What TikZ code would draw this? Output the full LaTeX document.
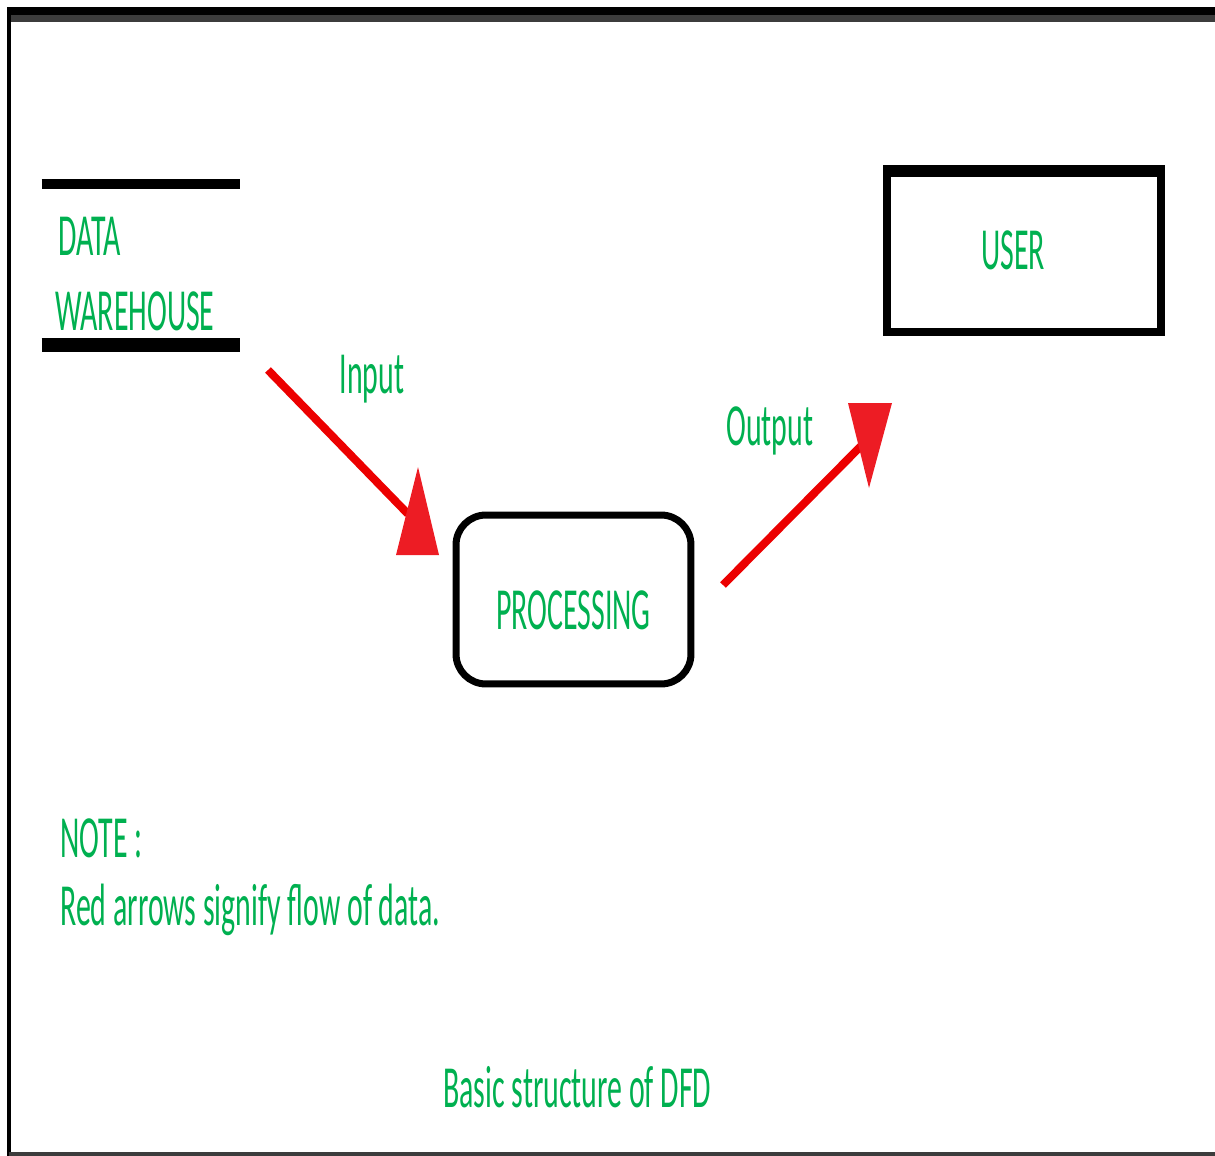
\documentclass[tikz,border=0pt]{standalone}
\usepackage{fontspec}
\setmainfont[FakeStretch=0.5]{Carlito}
\usepackage{tikz}
\usetikzlibrary{positioning}
\definecolor{dfdgreen}{RGB}{0,176,80}
\definecolor{dfdred}{RGB}{236,0,0}
\definecolor{dfdhead}{RGB}{237,28,36}
\definecolor{dfdgray}{RGB}{60,60,60}
\tikzstyle{dfdtext} = [text=dfdgreen, font=\fontsize{34}{40}\selectfont, inner sep=0pt]
\tikzstyle{process} = [rectangle, rounded corners=0.6cm, draw=black, line width=0.14cm, minimum width=4.7cm, minimum height=3.38cm, text height=1.2cm, text depth=0pt]
\tikzstyle{entity} = [rectangle, draw=black, line width=0.16cm, minimum width=5.48cm, minimum height=3.24cm, text height=0.74cm, text depth=0pt]
\tikzstyle{store} = [rectangle, minimum width=3.96cm, minimum height=3.22cm]
\tikzstyle{flow} = [line width=0.16cm, color=dfdred]
\tikzstyle{flowhead} = [fill=dfdhead]

\begin{document}
\begin{tikzpicture}[x=0.02cm, y=-0.02cm]
\useasboundingbox (0,0) rectangle (1215,1156);
% frame
\draw [line width=0.16cm, black] (7,11) -- (1215,11);
\draw [line width=0.14cm, dfdgray] (11,18.5) -- (1215,18.5);
\draw [line width=0.08cm, black] (9,7) -- (9,1156);
\draw [line width=0.08cm, dfdgray] (9,1154) -- (1215,1154);

% data store
\node (warehouse) [store] at (141,264.5) {};
\draw [line width=0.2cm, black] (warehouse.north west) -- (warehouse.north east);
\draw [line width=0.28cm, black] (warehouse.south west) -- (warehouse.south east);
\node (data) [dfdtext, anchor=base west] at (58,255) {DATA};
\node (whouse) [dfdtext, anchor=base west] at (55,330) {WAREHOUSE};

% processes and entity
\node (processing) [process, dfdtext] at (573.5,599.5) {PROCESSING};
\node (user) [entity, dfdtext] at (1024,251) {\kern-0.44cm USER};
\draw [line width=0.24cm, black] ([yshift=-0.1cm]user.north west) -- ([yshift=-0.1cm]user.north east);

% data flows
\coordinate (inStart) at (268,370);
\coordinate (inEnd) at (408,514);
\coordinate (outStart) at (723,585);
\coordinate (outEnd) at (862,445);
\draw [flow] (inStart) -- (inEnd);
\fill [flowhead] (418,467) -- (439,555) -- (396,555) -- cycle;
\draw [flow] (outStart) -- (outEnd);
\fill [flowhead] (848,403) -- (892,403) -- (869,488) -- cycle;
\node (input) [dfdtext, anchor=base] at (372,393) {Input};
\node (output) [dfdtext, anchor=base west] at (726,445) {Output};

% notes
\node (note) [dfdtext, anchor=base west] at (60,857) {NOTE :};
\node (notetext) [dfdtext, anchor=base west] at (60,925) {Red arrows signify flow of data.};
\node (caption) [dfdtext, anchor=base west] at (443,1107) {Basic structure of DFD};
\end{tikzpicture}
\end{document}
